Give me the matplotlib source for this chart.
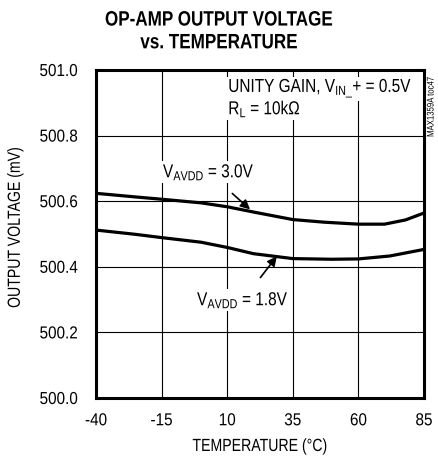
import matplotlib
matplotlib.use('Agg')
import matplotlib.pyplot as plt
from matplotlib import patheffects
from matplotlib.patches import Rectangle
from matplotlib.text import Text
from matplotlib.transforms import Affine2D, IdentityTransform

plt.rcParams['font.family'] = ['Liberation Sans', 'DejaVu Sans']
plt.rcParams['mathtext.fontset'] = 'custom'
plt.rcParams['mathtext.rm'] = 'Liberation Sans'
plt.rcParams['mathtext.it'] = 'Liberation Sans'
plt.rcParams['axes.unicode_minus'] = False


class Condense(patheffects.AbstractPathEffect):
    """Squeeze glyphs horizontally to mimic a narrow typeface."""

    def __init__(self, sx=0.82, ha='center'):
        super().__init__()
        self.sx = sx
        self.ha = ha

    def draw_path(self, renderer, gc, tpath, affine, rgbFace=None):
        ext = tpath.get_extents()
        if self.ha == 'left':
            px = ext.x0
        elif self.ha == 'right':
            px = ext.x1
        else:
            px = (ext.x0 + ext.x1) / 2
        squeeze = Affine2D().translate(-px, 0).scale(self.sx, 1).translate(px, 0)
        renderer.draw_path(gc, tpath, squeeze + affine, rgbFace)


temp_3v0 = [-40, -25, -15, 0, 10, 20, 35, 47, 60, 70, 78, 85]
vout_3v0 = [500.624, 500.613, 500.606, 500.595, 500.583, 500.567, 500.544, 500.536, 500.530, 500.530, 500.543, 500.564]

temp_1v8 = [-40, -25, -15, 0, 10, 20, 35, 50, 60, 72, 85]
vout_1v8 = [500.512, 500.499, 500.489, 500.475, 500.459, 500.440, 500.425, 500.423, 500.424, 500.433, 500.453]

xticks = [-40, -15, 10, 35, 60, 85]
yticks = [500.0, 500.2, 500.4, 500.6, 500.8, 501.0]

fig = plt.figure(figsize=(4.38, 4.59), dpi=100)
ax = fig.add_axes([96 / 438, 61 / 459, 328 / 438, 328 / 459])

ax.plot(temp_3v0, vout_3v0, color='black', lw=2.3, solid_capstyle='butt')
ax.plot(temp_1v8, vout_1v8, color='black', lw=2.3, solid_capstyle='butt')

ax.set_xlim(-40, 85)
ax.set_ylim(500.0, 501.0)
ax.set_xticks(xticks)
ax.set_yticks(yticks)
ax.set_yticklabels(['%.1f' % v for v in yticks])
ax.tick_params(length=0, labelsize=12.5)
ax.tick_params(axis='x', pad=11)
ax.tick_params(axis='y', pad=13)
ax.grid(True, color='black', lw=0.8)
for s in ax.spines.values():
    s.set_linewidth(2.2)

for lab in ax.get_xticklabels():
    lab.set_path_effects([Condense(0.88, 'center')])
for lab in ax.get_yticklabels():
    lab.set_path_effects([Condense(0.88, 'right')])

xl = ax.set_xlabel('TEMPERATURE (°C)', fontsize=12.7, labelpad=7)
yl = ax.set_ylabel('OUTPUT VOLTAGE (mV)', fontsize=12.7)
ax.yaxis.set_label_coords(-0.22, 0.52)
xl.set_path_effects([Condense(0.8)])
yl.set_path_effects([Condense(0.8)])

title = fig.suptitle('OP-AMP OUTPUT VOLTAGE\nvs. TEMPERATURE', x=0.5, y=0.977,
                     fontsize=15, fontweight='bold', linespacing=1.25)
title.set_path_effects([Condense(0.82)])

SX = 0.82
t1 = ax.text(10.3, 500.943, r'UNITY GAIN, V$_{\mathrm{IN\_}}$+ = 0.5V', fontsize=13.5,
             va='center', ha='left')
t2 = ax.text(10.3, 500.88, r'R$_{\mathrm{L}}$ = 10k$\Omega$', fontsize=13.5,
             va='center', ha='left')
a1 = ax.annotate(r'V$_{\mathrm{AVDD}}$ = 3.0V', xy=(18.7, 500.575), xytext=(3.0, 500.688),
                 fontsize=13.5, ha='center', va='center',
                 arrowprops=dict(arrowstyle='-|>', color='black', lw=1.2,
                                 shrinkA=9, shrinkB=0, mutation_scale=14))
a2 = ax.annotate(r'V$_{\mathrm{AVDD}}$ = 1.8V', xy=(28.9, 500.432), xytext=(16.0, 500.298),
                 fontsize=13.5, ha='center', va='center',
                 arrowprops=dict(arrowstyle='-|>', color='black', lw=1.2,
                                 shrinkA=9, shrinkB=0, mutation_scale=14))
labels = ((t1, 'left'), (t2, 'left'), (a1, 'center'), (a2, 'center'))
for t, ha in labels:
    t.set_path_effects([Condense(SX, ha)])
for a in (a1, a2):
    a.arrow_patch.set_path_effects([])

side = fig.text(0.983, 0.767, 'MAX1359A toc47', rotation=90, fontsize=7,
                ha='center', va='center')
side.set_path_effects([Condense(0.8)])

# white backing behind the labels so the grid stops at the text
fig.canvas.draw()
r = fig.canvas.get_renderer()
for t, ha in labels:
    bb = Text.get_window_extent(t, r)  # text only, without the arrow
    w = bb.width * SX
    x0 = bb.x0 if ha == 'left' else bb.x0 + (bb.width - w) / 2
    ax.add_patch(Rectangle((x0 - 2, bb.y0 - 1), w + 4, bb.height + 2,
                           transform=IdentityTransform(), facecolor='white',
                           edgecolor='none', zorder=1.8))

fig.savefig('out.png', dpi=100)
